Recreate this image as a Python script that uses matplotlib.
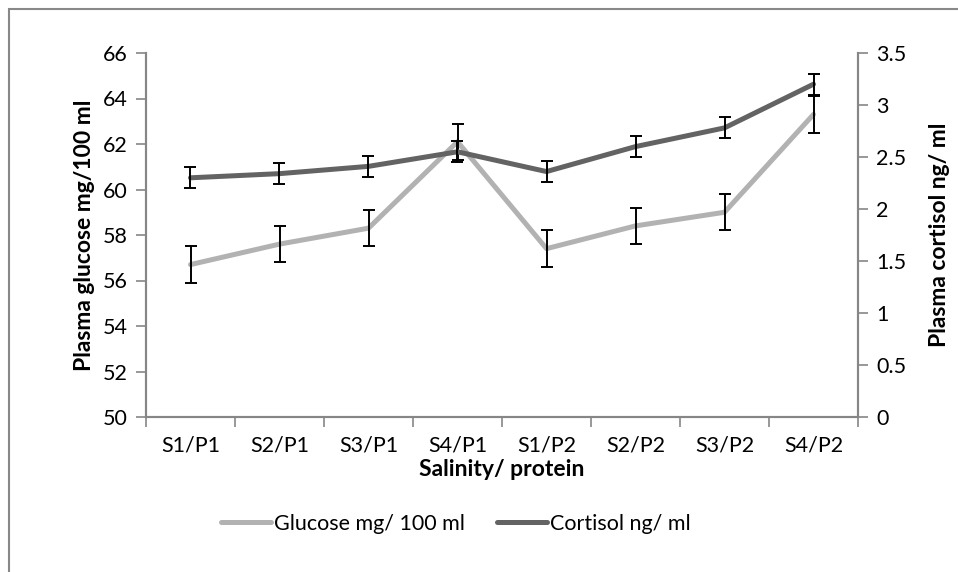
import matplotlib.pyplot as plt
from matplotlib.patches import Rectangle

plt.rcParams['font.family'] = ['Lato', 'DejaVu Sans']

groups = ["S1/P1", "S2/P1", "S3/P1", "S4/P1", "S1/P2", "S2/P2", "S3/P2", "S4/P2"]
glucose = [56.7, 57.6, 58.3, 62.1, 57.4, 58.4, 59.0, 63.3]
glucose_err = [0.8, 0.8, 0.8, 0.8, 0.8, 0.8, 0.8, 0.8]
cortisol = [2.30, 2.34, 2.41, 2.55, 2.36, 2.60, 2.78, 3.20]
cortisol_err = [0.1, 0.1, 0.1, 0.1, 0.1, 0.1, 0.1, 0.1]

W, H = 958, 572
fig = plt.figure(figsize=(W / 100, H / 100), dpi=100)
ax = fig.add_axes([146 / W, 1 - 417 / H, (858 - 146) / W, (417 - 53) / H])
ax2 = ax.twinx()

# outer chart border (only top/left edges inside the image)
fig.patches.append(Rectangle((9 / W, -0.1), 1.2, 1 - 9 / H + 0.1, transform=fig.transFigure,
                             fill=False, edgecolor='#888888', linewidth=1.5))

x = list(range(len(groups)))
spine_col = '#868686'
fs = 15.5

l1, = ax.plot(x, glucose, color='#b2b2b2', linewidth=3.6, solid_capstyle='round', zorder=2)
ax.errorbar(x, glucose, yerr=glucose_err, fmt='none', ecolor='black', elinewidth=1.4,
            capsize=4.3, capthick=1.4, zorder=3)
l2, = ax2.plot(x, cortisol, color='#636363', linewidth=3.6, solid_capstyle='round', zorder=2)
ax2.errorbar(x, cortisol, yerr=cortisol_err, fmt='none', ecolor='black', elinewidth=1.4,
             capsize=4.3, capthick=1.4, zorder=3)

ax.set_xlim(-0.5, len(groups) - 0.5)
ax.set_ylim(50, 66)
ax.set_yticks(range(50, 67, 2))
ax2.set_ylim(0, 3.5)
ax2.set_yticks([0, 0.5, 1, 1.5, 2, 2.5, 3, 3.5])
ax2.set_yticklabels(['0', '0.5', '1', '1.5', '2', '2.5', '3', '3.5'])

ax.set_xticks(x)
ax.set_xticklabels(groups)
ax.set_xticks([i - 0.5 for i in range(len(groups) + 1)], minor=True)
ax.tick_params(axis='x', which='major', length=0, pad=13, labelsize=fs)
ax.tick_params(axis='x', which='minor', length=7, width=1.2, color=spine_col)
ax.tick_params(axis='y', length=7, width=1.2, color=spine_col, labelsize=fs, pad=6)
ax2.tick_params(axis='y', length=7, width=1.2, color=spine_col, labelsize=fs, pad=6)

for a in (ax, ax2):
    a.spines['top'].set_visible(False)
    for s in ('left', 'right', 'bottom'):
        a.spines[s].set_color(spine_col)
        a.spines[s].set_linewidth(1.5)

ax.set_xlabel("Salinity/ protein", fontsize=16.5, fontweight='bold', labelpad=3)
ax.set_ylabel("Plasma glucose mg/100 ml", fontsize=16.5, fontweight='bold', labelpad=6)
ax2.set_ylabel("Plasma cortisol ng/ ml", fontsize=16.5, fontweight='bold', labelpad=16)

fig.legend([l1, l2], ["Glucose mg/ 100 ml", "Cortisol ng/ ml"], loc='center',
           bbox_to_anchor=(456 / W, 1 - 524 / H), ncol=2, frameon=False, fontsize=fs,
           handlelength=2.3, handletextpad=0.15, columnspacing=1.5)

fig.savefig("out.png", dpi=100)
